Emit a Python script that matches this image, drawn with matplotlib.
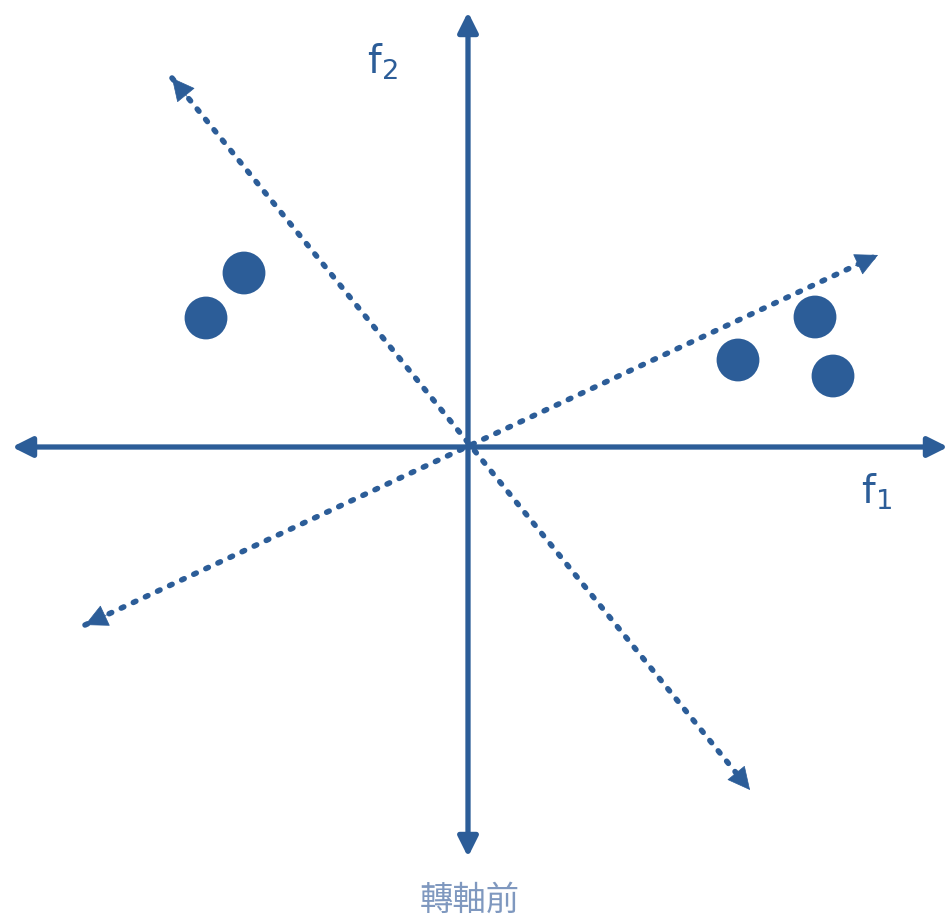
import matplotlib
matplotlib.use("Agg")
import matplotlib.pyplot as plt

# data in pixel-like units, origin at the axes crossing
pts_x = [-224, -262, 270, 347, 365]
pts_y = [174, 129, 87, 130, 71]

# rotated (dotted) axes end points
rot_a = [(-296, 369), (282, -343)]
rot_b = [(-383, -178), (410, 192)]

# solid axes extents
x_ext = (-456, 480)
y_ext = (-410, 435)

blue = "#2c5d98"

fig = plt.figure(figsize=(9.51, 9.21), dpi=100)
ax = fig.add_axes([0, 0, 1, 1])
ax.set_xlim(-468, 483)
ax.set_ylim(-474, 447)
ax.axis("off")

def arrow(p0, p1, lw, ls, scale):
    ax.annotate("", xy=p1, xytext=p0,
                arrowprops=dict(arrowstyle="<|-|>", color=blue, lw=lw, ls=ls,
                                mutation_scale=scale, shrinkA=0, shrinkB=0,
                                capstyle="round"))

arrow((x_ext[0], 0), (x_ext[1], 0), 3.8, "-", 30)
arrow((0, y_ext[0]), (0, y_ext[1]), 3.8, "-", 30)

for seg in (rot_a, rot_b):
    (x0, y0), (x1, y1) = seg
    ax.plot([x0, x1], [y0, y1], color=blue, lw=4.0, ls=(0, (0.5, 1.9)),
            solid_capstyle="round", dash_capstyle="round")
    for (ax0, ay0), (ax1, ay1) in (((x0, y0), (x1, y1)), ((x1, y1), (x0, y0))):
        dx, dy = ax1 - ax0, ay1 - ay0
        n = (dx ** 2 + dy ** 2) ** 0.5
        ax.annotate("", xy=(ax1, ay1), xytext=(ax1 - dx / n * 25, ay1 - dy / n * 25),
                    arrowprops=dict(arrowstyle="-|>", color=blue, lw=0.5,
                                    mutation_scale=38, shrinkA=0, shrinkB=0))

ax.scatter(pts_x, pts_y, s=950, color=blue, zorder=3, edgecolors="none")

ax.text(-86, 385, r"f$_2$", color=blue, fontsize=28, ha="center", va="center",
        family="DejaVu Sans")
ax.text(408, -45, r"f$_1$", color=blue, fontsize=28, ha="center", va="center",
        family="DejaVu Sans")
ax.text(2, -453, "轉軸前", color="#7f98bf", fontsize=24, ha="center", va="center",
        family=["Noto Sans CJK TC", "DejaVu Sans"])

fig.savefig("out.png", dpi=100, facecolor="white")
